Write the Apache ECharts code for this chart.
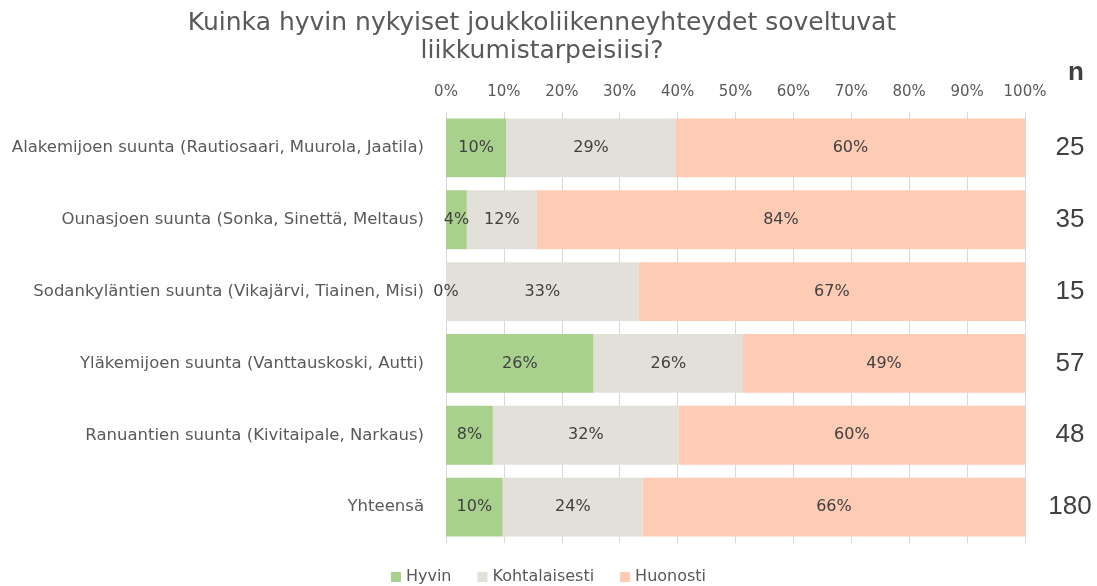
<!DOCTYPE html>
<html>
<head>
<meta charset="utf-8">
<script src="https://cdn.jsdelivr.net/npm/echarts@6/dist/echarts.min.js"></script>
<style>
  html, body { margin: 0; padding: 0; background: #fff; }
  #chart { width: 1097px; height: 586px; }
</style>
</head>
<body>
<div id="chart"></div>
<script>
  // data (percent of answers per direction)
  const categories = [
    'Alakemijoen suunta (Rautiosaari, Muurola, Jaatila)',
    'Ounasjoen suunta (Sonka, Sinettä, Meltaus)',
    'Sodankyläntien suunta (Vikajärvi, Tiainen, Misi)',
    'Yläkemijoen suunta (Vanttauskoski, Autti)',
    'Ranuantien suunta (Kivitaipale, Narkaus)',
    'Yhteensä'
  ];
  const hyvin = [10.4, 3.6, 0, 25.5, 8.1, 9.8];
  const kohtalaisesti = [29.3, 12.1, 33.3, 25.8, 32.1, 24.2];
  const huonosti = [60.3, 84.3, 66.7, 48.7, 59.8, 66.0];
  const nCounts = ['25', '35', '15', '57', '48', '180'];

  const txt = '#595959';
  const font = '"DejaVu Sans", Verdana, sans-serif';

  let chart = echarts.init(document.getElementById('chart'));

  const label = {
    show: true,
    position: 'inside',
    color: '#404040',
    fontFamily: font,
    fontSize: 16,
    formatter: p => Math.round(p.value) + '%'
  };

  chart.setOption({
    animation: false,
    title: [
      {
        text: 'Kuinka hyvin nykyiset joukkoliikenneyhteydet soveltuvat\nliikkumistarpeisiisi?',
        left: 537,
        top: 4,
        textAlign: 'center',
        textStyle: { color: txt, fontFamily: font, fontSize: 25, fontWeight: 'normal', lineHeight: 28 }
      },
      {
        text: 'n',
        left: 1071,
        top: 55,
        textAlign: 'center',
        textStyle: { color: '#404040', fontFamily: '"Liberation Sans", Arial, sans-serif', fontSize: 26, fontWeight: 'bold' }
      }
    ],
    legend: {
      top: 564,
      left: 'center',
      itemWidth: 10,
      itemHeight: 10,
      itemGap: 26,
      icon: 'rect',
      textStyle: { color: txt, fontFamily: font, fontSize: 16 },
      data: ['Hyvin', 'Kohtalaisesti', 'Huonosti']
    },
    grid: { left: 446, right: 72, top: 112, bottom: 43 },
    xAxis: {
      type: 'value',
      position: 'top',
      min: 0,
      max: 100,
      interval: 10,
      axisLine: { show: false },
      axisTick: { show: false },
      axisLabel: { color: txt, fontFamily: font, fontSize: 15, margin: 12, formatter: '{value}%' },
      splitLine: { lineStyle: { color: '#d9d9d9', width: 1 } }
    },
    yAxis: [
      {
        type: 'category',
        inverse: true,
        data: categories,
        axisLine: { show: false },
        axisTick: { show: false },
        axisLabel: { color: txt, fontFamily: font, fontSize: 16.5, margin: 22 }
      },
      {
        type: 'category',
        inverse: true,
        position: 'right',
        data: nCounts,
        axisLine: { show: false },
        axisTick: { show: false },
        axisLabel: { color: '#404040', fontFamily: '"Liberation Sans", Arial, sans-serif', fontSize: 26, align: 'center', margin: 45 }
      }
    ],
    series: [
      { name: 'Hyvin', type: 'bar', stack: 'a', data: hyvin, barCategoryGap: '18%', itemStyle: { color: '#a9d18e' }, label: label },
      { name: 'Kohtalaisesti', type: 'bar', stack: 'a', data: kohtalaisesti, itemStyle: { color: '#e2e0d9' }, label: label },
      { name: 'Huonosti', type: 'bar', stack: 'a', data: huonosti, itemStyle: { color: '#fecbb5' }, label: label }
    ]
  });
</script>
</body>
</html>
